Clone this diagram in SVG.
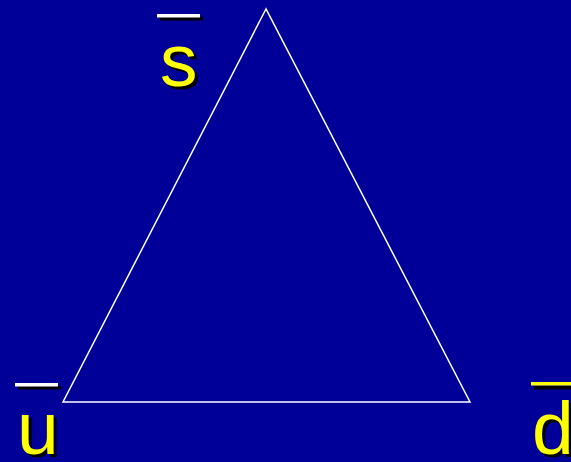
<svg xmlns="http://www.w3.org/2000/svg" width="571" height="462" viewBox="0 0 571 462">
<style>
.lbl{font-family:"Liberation Sans",Arial,sans-serif;font-size:75px;}
.fg{fill:#ffff00;}
.sh{fill:#000000;}
</style>
<rect width="571" height="462" fill="#000099"/>
<g id="connectors">
<polygon points="266,9 63,402 470,402" fill="none" stroke="#ffffff" stroke-width="1.5"/>
</g>
<g id="node-s">
<rect x="160" y="17" width="43" height="3.5" class="sh"/>
<rect x="157" y="14" width="43" height="3.5" fill="#ffffff"/>
<text x="163" y="89" class="lbl sh">s</text>
<text x="160" y="86" class="lbl fg">s</text>
</g>
<g id="node-u">
<rect x="18" y="386" width="43" height="3.5" class="sh"/>
<rect x="15" y="383" width="43" height="3.5" fill="#ffffff"/>
<text x="20" y="457" class="lbl sh">u</text>
<text x="17" y="454" class="lbl fg">u</text>
</g>
<g id="node-d">
<rect x="534" y="386" width="43" height="3.5" class="sh"/>
<rect x="531" y="382" width="43" height="3.5" class="fg"/>
<text x="535" y="457" class="lbl sh">d</text>
<text x="532" y="454" class="lbl fg">d</text>
</g>
</svg>
